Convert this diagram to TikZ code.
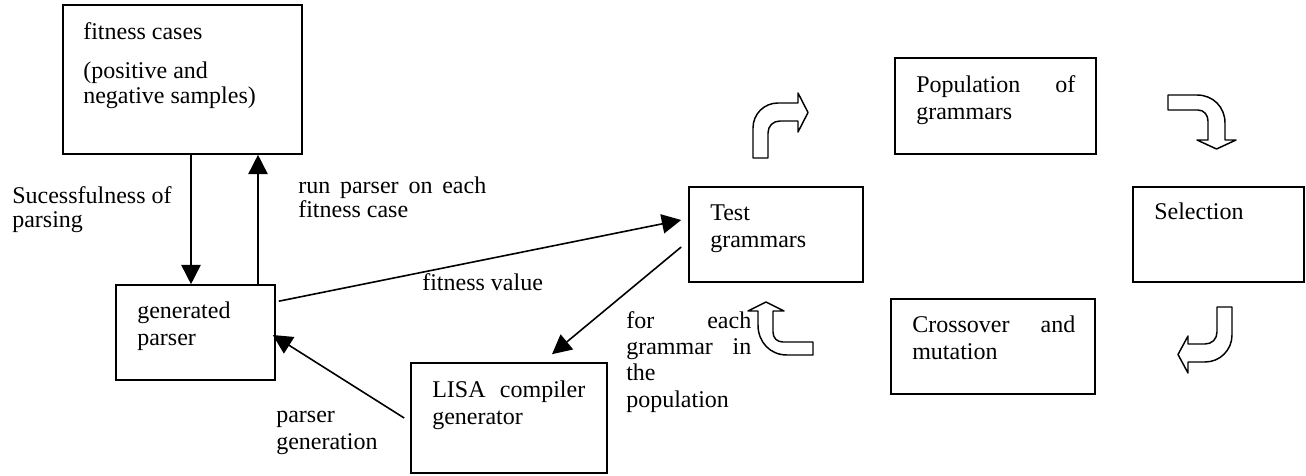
\documentclass[tikz,border=0pt]{standalone}
\usepackage{fontspec}
\setmainfont{Liberation Serif}
\usetikzlibrary{arrows.meta}
\begin{document}
\begin{tikzpicture}[x=0.75pt,y=-0.75pt,
  box/.style={draw,line width=1.2pt,inner sep=0pt},
  lbl/.style={anchor=base west,inner sep=0pt,font=\fontsize{18pt}{20.7pt}\selectfont},
  arr/.style={line width=1.2pt,-{Triangle[length=14.5pt,width=14.5pt]}},
  blk/.style={draw,line width=1.1pt,fill=white,line join=round}]
\useasboundingbox (0,0) rectangle (1306,475);

% boxes
\node[box,minimum width=179.25pt,minimum height=111.75pt] (fc) at (182.5,79.5) {};
\node[box,minimum width=119.25pt,minimum height=71.25pt] (gp) at (195.5,332.5) {};
\node[box,minimum width=130.5pt,minimum height=71.25pt] (tg) at (776,234.5) {};
\node[box,minimum width=147pt,minimum height=82.5pt] (lisa) at (509,418) {};
\node[box,minimum width=150.75pt,minimum height=72pt] (pop) at (995.5,106) {};
\node[box,minimum width=128.25pt,minimum height=71.25pt] (sel) at (1218.5,234.5) {};
\node[box,minimum width=153pt,minimum height=71.25pt] (co) at (993,346.5) {};

% texts
\node[lbl] (t1) at (83,39) {fitness cases};
\node[lbl] (t2) at (83,78) {\baselineskip=18.75pt\vtop{\hbox{(positive and}\hbox{negative samples)}}};
\node[lbl] (t3) at (12,203) {\baselineskip=18pt\vtop{\hbox{Sucessfulness of}\hbox{parsing}}};
\node[lbl] (t4) at (298,193) {\baselineskip=18pt\vtop{\hbox to 141pt{run\hfill parser\hfill on\hfill each}\hbox{fitness case}}};
\node[lbl] (t5) at (137,318) {\vtop{\hbox{generated}\hbox{parser}}};
\node[lbl] (t6) at (422,290) {fitness value};
\node[lbl] (t7) at (710,220) {\vtop{\hbox{Test}\hbox{grammars}}};
\node[lbl] (t8) at (626,328) {\baselineskip=19.75pt\vtop{\hbox to 93.75pt{for\hfill each}\hbox to 93.75pt{grammar\hfill in}\hbox{the}\hbox{population}}};
\node[lbl] (t9) at (276,422) {\vtop{\hbox{parser}\hbox{generation}}};
\node[lbl] (t10) at (432,397) {\vtop{\hbox to 114.75pt{LISA\hfill compiler}\hbox{generator}}};
\node[lbl] (t11) at (916,92) {\vtop{\hbox to 119.25pt{Population\hfill of}\hbox{grammars}}};
\node[lbl] (t12) at (1154,219) {Selection};
\node[lbl] (t13) at (912,332) {\vtop{\hbox to 122.25pt{Crossover\hfill and}\hbox{mutation}}};

% connectors
\coordinate (xd) at (191,0);
\coordinate (xu) at (258,0);
\draw[arr] (fc.south -| xd) -- (gp.north -| xd);
\draw[arr] (gp.north -| xu) -- (fc.south -| xu);
\draw[arr] ([shift={(3,17)}]gp.north east) -- ([shift={(-7,-14.5)}]tg.west);
\draw[arr] ([shift={(-7,12.5)}]tg.west) -- ([shift={(43,-8)}]lisa.north);
\draw[arr] ([shift={(-6,0)}]lisa.west) -- ([shift={(-3,2.5)}]gp.east);

% block arrows
\draw[blk] (753,158) -- (753,128) .. controls (753,114) and (764,103) .. (778,103)
  -- (798,103) -- (798,93) -- (808,112.5) -- (798,132) -- (798,121) -- (780,121)
  .. controls (773,121) and (768,126) .. (768,133) -- (768,158) -- cycle;
\draw[blk] (1168,95) -- (1197,95) .. controls (1213,95) and (1225,107) .. (1225,123)
  -- (1225,140) -- (1236,140) -- (1216.5,149) -- (1197,140) -- (1208,140) -- (1208,121)
  .. controls (1208,115) and (1204,110) .. (1198,110) -- (1168,110) -- cycle;
\draw[blk] (1217,307) -- (1232,307) -- (1232,335) .. controls (1232,350) and (1220,362) .. (1205,362)
  -- (1188,362) -- (1188,373) -- (1178,354.5) -- (1188,336) -- (1188,344) -- (1205,344)
  .. controls (1212,344) and (1217,339) .. (1217,332) -- cycle;
\draw[blk] (813,342) -- (783,342) .. controls (777,342) and (773,338) .. (773,332)
  -- (773,311) -- (784,311) -- (766,302) -- (748,311) -- (758,311) -- (758,325)
  .. controls (758,342) and (770,355) .. (787,355) -- (813,355) -- cycle;
\end{tikzpicture}
\end{document}
